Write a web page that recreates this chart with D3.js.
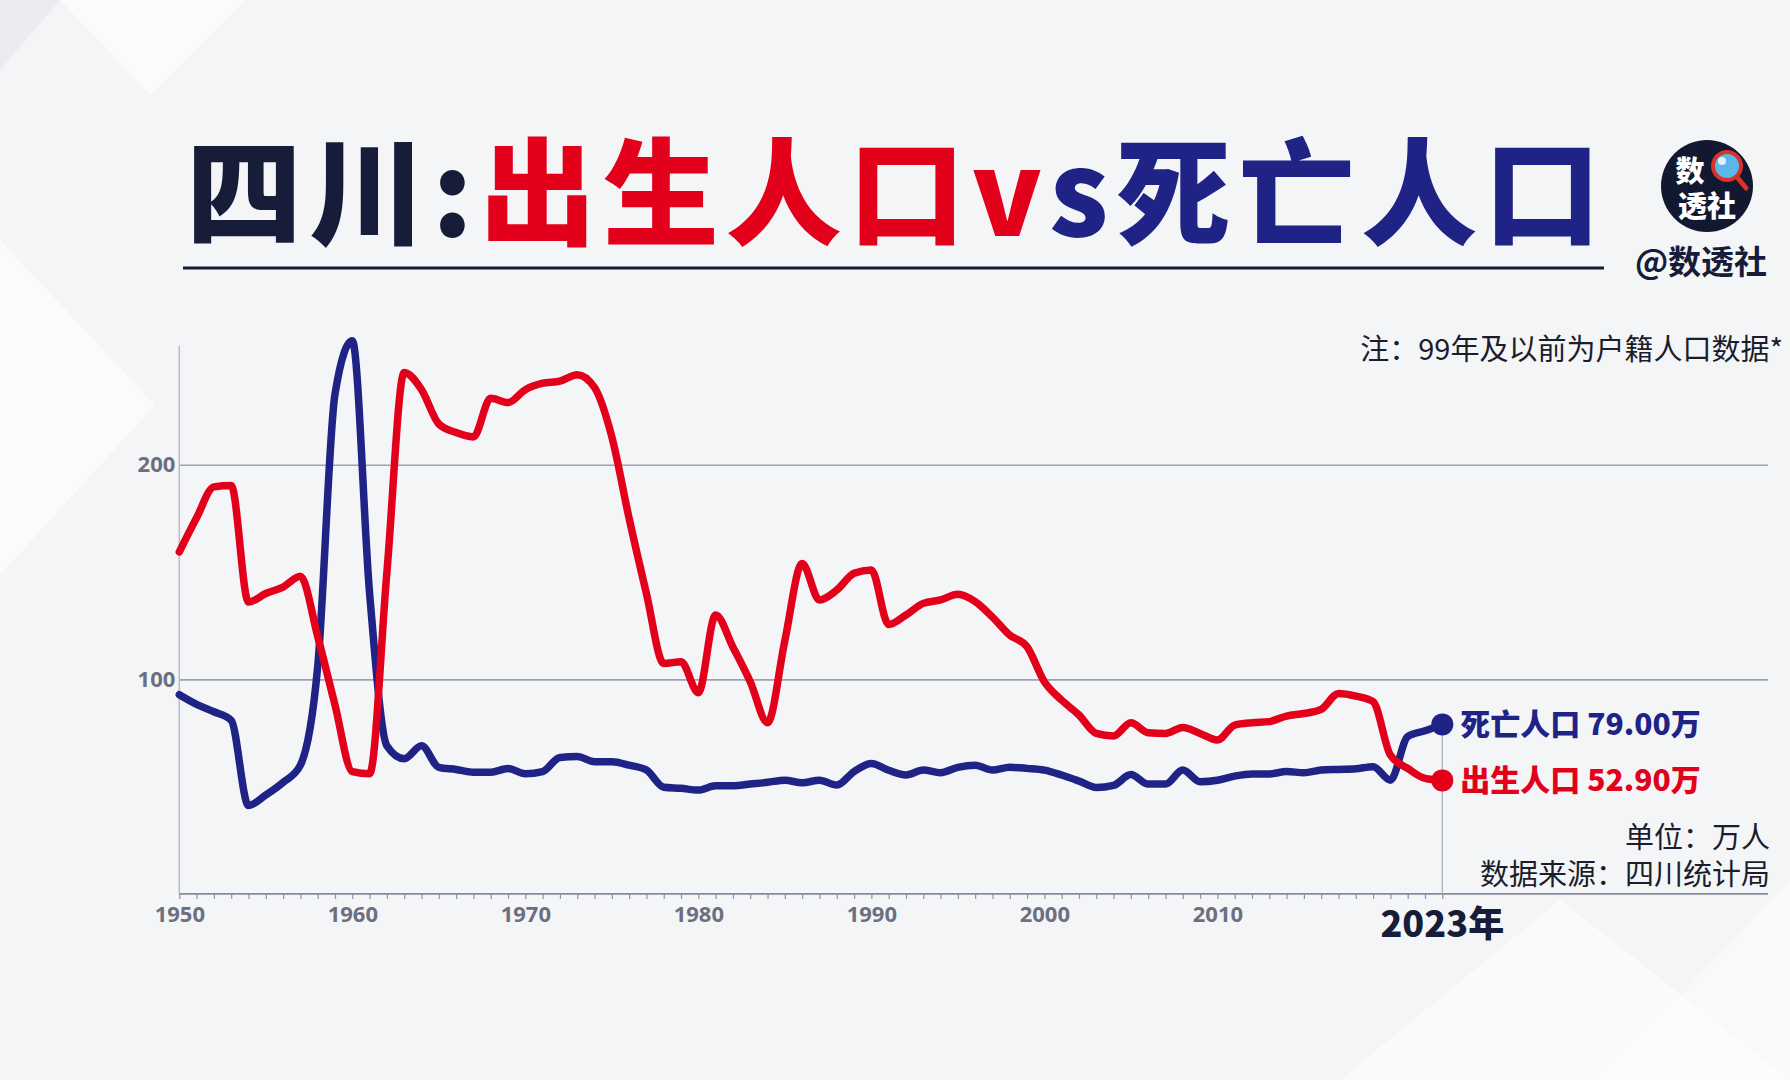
<!DOCTYPE html>
<html><head><meta charset="utf-8">
<script src="https://cdn.jsdelivr.net/npm/d3@7/dist/d3.min.js"></script>
<style>
body{margin:0;background:#f4f5f7;}
svg{display:block}
</style>
</head><body>
<svg id="chart" width="1790" height="1080"></svg>
<script>
// ---------------- DATA ----------------
const years = [1950,1951,1952,1953,1954,1955,1956,1957,1958,1959,
1960,1961,1962,1963,1964,1965,1966,1967,1968,1969,
1970,1971,1972,1973,1974,1975,1976,1977,1978,1979,
1980,1981,1982,1983,1984,1985,1986,1987,1988,1989,
1990,1991,1992,1993,1994,1995,1996,1997,1998,1999,
2000,2001,2002,2003,2004,2005,2006,2007,2008,2009,
2010,2011,2012,2013,2014,2015,2016,2017,2018,2019,
2020,2021,2022,2023];
const births = [159.4,175.3,189.7,190.3,136,140,143,148,120,88,
57,56,150,243,235,219,215,213,231,229,
235,238,239,242,236,213,175,140,107.4,108.2,
93.8,130,115,98.9,79.8,118,154,137,141.6,149.4,
151,125.5,130,135.4,137,139.6,136.2,129,120.6,115.2,
98.9,90.3,83.4,74.8,73.6,79.8,75.1,74.8,77.6,74.8,
71.7,78.7,79.8,80.3,82.9,84.1,86,93.4,92.2,89.6,
64.7,58.5,53.8,52.9];
const deaths = [92.8,88.3,84.9,80.9,41.2,46.1,52,60,106,233,
257.8,140,69,63,69,59,58,56.7,56.7,58.4,
56,57,63.6,64,61.6,61.6,60,57.7,49.7,49.2,
48.4,50.4,50.4,51.2,52,53,51.8,53,50.7,57,
60.8,57.6,55.4,57.7,56.5,59,60,57.7,59,58.5,
57.7,55.4,52.6,49.6,50.6,55.6,51.2,51.2,57.7,52.3,
53,54.9,55.9,55.9,57,56.5,57.7,58,58.3,59.3,
53,73.3,76,79];
const xTickLabels = [1950,1960,1970,1980,1990,2000,2010];
const yTickValues = [100,200];
const endLabels = ["出生人口 52.90万","死亡人口 79.00万"];
const lastYearLabel = "2023年";

// ---------------- STYLE ----------------
const RED = "#e3001b", BLUE = "#1f2385", NAVY = "#171c38";
const svg = d3.select("#chart");
const W = 1790, H = 1080;

// background
svg.append("rect").attr("width",W).attr("height",H).attr("fill","#f4f5f7");
const bg = svg.append("g");
bg.append("polygon").attr("points","60,0 245,0 150,95").attr("fill","#ffffff").attr("opacity",0.55);
bg.append("polygon").attr("points","0,240 155,405 0,575").attr("fill","#ffffff").attr("opacity",0.6);
bg.append("polygon").attr("points","1340,1080 1560,900 1790,1080").attr("fill","#ffffff").attr("opacity",0.5);
bg.append("polygon").attr("points","1600,1080 1790,880 1790,1080").attr("fill","#ffffff").attr("opacity",0.4);
bg.append("polygon").attr("points","0,0 60,0 0,70").attr("fill","#e9eaee").attr("opacity",0.8);

// ---------------- TITLE ----------------
const title = svg.append("text")
  .attr("x",186).attr("y",236)
  .attr("font-family","'Noto Sans CJK SC', sans-serif")
  .attr("font-weight",900).attr("font-size",116)
  .attr("letter-spacing",7);
title.append("tspan").attr("fill",NAVY).text("四川:");
title.append("tspan").attr("fill",RED).text("出生人口v");
title.append("tspan").attr("fill",BLUE).text("s死亡人口");

svg.append("line").attr("x1",183).attr("x2",1604).attr("y1",268).attr("y2",268)
  .attr("stroke",NAVY).attr("stroke-width",3);

// logo
const logo = svg.append("g");
logo.append("circle").attr("cx",1707).attr("cy",186).attr("r",46).attr("fill","#131831");
logo.append("circle").attr("cx",1727).attr("cy",166).attr("r",14).attr("fill","#5bb8ea").attr("stroke","#d8322a").attr("stroke-width",4);
logo.append("circle").attr("cx",1722).attr("cy",161).attr("r",4).attr("fill","#ffffff").attr("opacity",0.8);
logo.append("line").attr("x1",1737).attr("y1",177).attr("x2",1746).attr("y2",188).attr("stroke","#d8322a").attr("stroke-width",5).attr("stroke-linecap","round");
logo.append("text").attr("x",1690).attr("y",182).attr("text-anchor","middle")
  .attr("font-family","'Noto Sans CJK SC', sans-serif").attr("font-weight",900).attr("font-size",29)
  .attr("fill","#ffffff").text("数");
logo.append("text").attr("x",1707).attr("y",217).attr("text-anchor","middle")
  .attr("font-family","'Noto Sans CJK SC', sans-serif").attr("font-weight",900).attr("font-size",29)
  .attr("fill","#ffffff").text("透社");
svg.append("text").attr("x",1701).attr("y",274).attr("text-anchor","middle")
  .attr("font-family","'Noto Sans CJK SC', sans-serif").attr("font-weight",700).attr("font-size",33)
  .attr("fill",NAVY).text("@数透社");

// ---------------- SCALES ----------------
const x = d3.scaleLinear().domain([1950,2023]).range([179.3,1442.3]);
const y = d3.scaleLinear().domain([0,255.4]).range([893.9,345.9]);
const plotRight = 1768;

// gridlines + y labels
const yAxis = d3.axisLeft(y).tickValues(yTickValues).tickSize(-(plotRight-x(1950))).tickPadding(6).tickFormat(d3.format("d"));
const gy = svg.append("g").attr("transform",`translate(${x(1950)},0)`).call(yAxis);
gy.select(".domain").remove();
gy.selectAll(".tick line").attr("stroke","#9ea1b6").attr("stroke-width",1.6);
gy.selectAll(".tick text").attr("font-family","'Open Sans', sans-serif").attr("font-weight",700)
  .attr("font-size",22).attr("fill","#6c6f80").attr("x",-4);

// y axis line
svg.append("line").attr("x1",x(1950)).attr("x2",x(1950)).attr("y1",346).attr("y2",y(0))
  .attr("stroke","#b9bbc6").attr("stroke-width",1.5);

// x axis
const xAxis = d3.axisBottom(x).tickValues(years).tickSize(5).tickPadding(7)
  .tickFormat(d => xTickLabels.includes(d) ? String(d) : "");
const gx = svg.append("g").attr("transform",`translate(0,${y(0)})`).call(xAxis);
gx.select(".domain").remove();
gx.selectAll(".tick line").attr("stroke","#8f92a3").attr("stroke-width",1.2);
gx.selectAll(".tick text").attr("font-family","'Open Sans', sans-serif").attr("font-weight",700)
  .attr("font-size",22).attr("fill","#6c6f80");
svg.append("line").attr("x1",x(1950)).attr("x2",plotRight).attr("y1",y(0)).attr("y2",y(0))
  .attr("stroke","#868a9c").attr("stroke-width",1.6);

// 2023 marker line
svg.append("line").attr("x1",x(2023)).attr("x2",x(2023)).attr("y1",y(deaths[deaths.length-1])).attr("y2",y(0))
  .attr("stroke","#a9acbb").attr("stroke-width",1.2);

svg.append("text").attr("x",x(2023)).attr("y",937).attr("text-anchor","middle")
  .attr("font-family","'Noto Sans CJK SC', sans-serif").attr("font-weight",900).attr("font-size",36)
  .attr("fill",NAVY).text(lastYearLabel);

// ---------------- LINES ----------------
const line = d3.line().x((d,i)=>x(years[i])).y(d=>y(d)).curve(d3.curveMonotoneX);
svg.append("path").datum(deaths).attr("d",line).attr("fill","none").attr("stroke",BLUE)
  .attr("stroke-width",7.5).attr("stroke-linejoin","round").attr("stroke-linecap","round");
svg.append("path").datum(births).attr("d",line).attr("fill","none").attr("stroke",RED)
  .attr("stroke-width",7.5).attr("stroke-linejoin","round").attr("stroke-linecap","round");

const last = years.length-1;
svg.append("circle").attr("cx",x(years[last])).attr("cy",y(deaths[last])).attr("r",11).attr("fill",BLUE);
svg.append("circle").attr("cx",x(years[last])).attr("cy",y(births[last])).attr("r",11).attr("fill",RED);

svg.append("text").attr("x",x(years[last])+18).attr("y",y(deaths[last])+11)
  .attr("font-family","'Noto Sans CJK SC', sans-serif").attr("font-weight",900).attr("font-size",30)
  .attr("fill",BLUE).text(endLabels[1]);
svg.append("text").attr("x",x(years[last])+18).attr("y",y(births[last])+11)
  .attr("font-family","'Noto Sans CJK SC', sans-serif").attr("font-weight",900).attr("font-size",30)
  .attr("fill",RED).text(endLabels[0]);

// notes
const noteFont = "'Noto Sans CJK SC', sans-serif";
svg.append("text").attr("x",1783).attr("y",360).attr("text-anchor","end")
  .attr("font-family",noteFont).attr("font-size",29).attr("fill","#1b1d2c")
  .text("注：99年及以前为户籍人口数据*");
svg.append("text").attr("x",1770).attr("y",848).attr("text-anchor","end")
  .attr("font-family",noteFont).attr("font-size",29).attr("fill","#1b1d2c")
  .text("单位：万人");
svg.append("text").attr("x",1770).attr("y",885).attr("text-anchor","end")
  .attr("font-family",noteFont).attr("font-size",29).attr("fill","#1b1d2c")
  .text("数据来源：四川统计局");
</script>
</body></html>
